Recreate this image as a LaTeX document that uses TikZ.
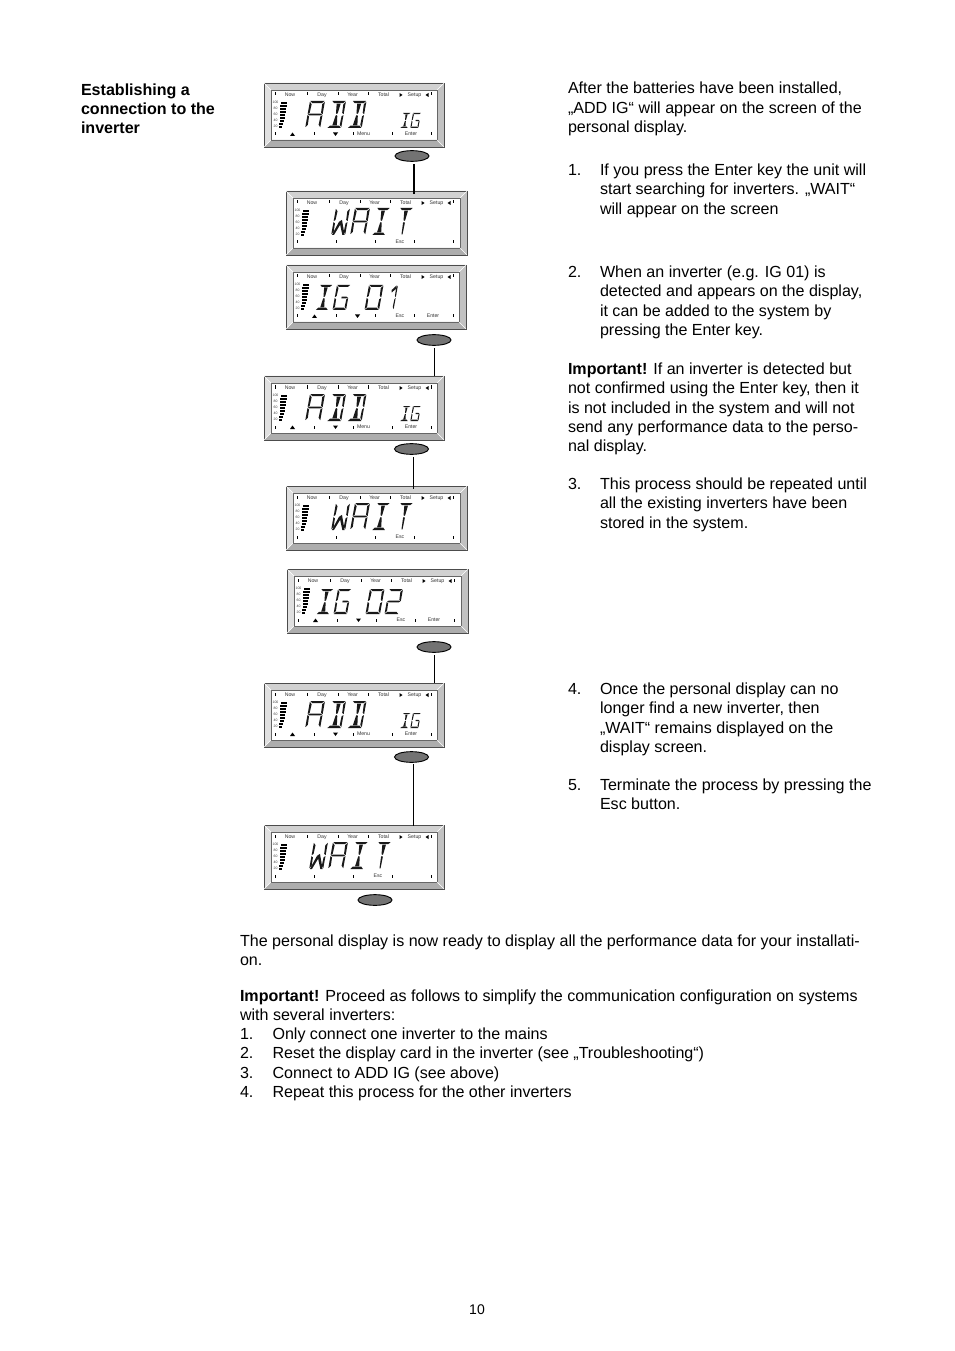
\documentclass[tikz,border=0pt]{standalone}
\usepackage{fontspec}
\setmainfont{Liberation Sans}
\usetikzlibrary{shapes.geometric}
\newcommand{\fl}{\rule{0pt}{11pt}}
\tikzset{
 x=.75pt,y=-.75pt,
 body/.style={anchor=north west,inner sep=0pt,outer sep=0pt,align=left,font=\fontsize{12.05}{14.4}\selectfont},
 lcdbox/.style={draw=black!70,line width=.5pt,anchor=north west,inner sep=0pt,fill=white},
 keybtn/.style={ellipse,draw=black,line width=.7pt,fill=black!55,minimum width=25.5pt,minimum height=8pt,inner sep=0pt},
 wire/.style={draw=black,line width=1.1pt},
 thinwire/.style={draw=black,line width=.7pt},
 tiny/.style={inner sep=0pt,font=\fontsize{3.9}{4}\selectfont,text=black!80},
 micro/.style={inner sep=0pt,font=\fontsize{2.6}{3}\selectfont,text=black!75},
 lcdseg/.style={fill=black!90},
}
\def\segT{\fill[lcdseg] (.03,0)--(.97,0)--(.82,.08)--(.18,.08)--cycle;}
\def\segB{\fill[lcdseg] (.02,1)--(.98,1)--(.82,.91)--(.18,.91)--cycle;}
\def\segUL{\fill[lcdseg] (0,.03)--(.15,.12)--(.12,.44)--(0,.49)--cycle;}
\def\segUR{\fill[lcdseg] (1,.03)--(.85,.12)--(.88,.44)--(1,.49)--cycle;}
\def\segLL{\fill[lcdseg] (0,.52)--(.12,.57)--(.14,.88)--(0,.97)--cycle;}
\def\segLR{\fill[lcdseg] (1,.52)--(.88,.57)--(.86,.88)--(1,.97)--cycle;}
\def\segM{\fill[lcdseg] (.03,.5)--(.14,.465)--(.86,.465)--(.97,.5)--(.86,.535)--(.14,.535)--cycle;}
\def\segMR{\fill[lcdseg] (.5,.465)--(.86,.465)--(.97,.5)--(.86,.535)--(.5,.535)--cycle;}
\def\segCU{\fill[lcdseg] (.37,.1)--(.65,.1)--(.57,.45)--(.5,.48)--(.44,.45)--cycle;}
\def\segCL{\fill[lcdseg] (.44,.55)--(.5,.52)--(.57,.55)--(.66,.9)--(.34,.9)--cycle;}
\def\segTL{\fill[lcdseg] (.44,.55)--(.5,.52)--(.58,.55)--(.56,.98)--(.48,.98)--cycle;}
\def\segDL{\fill[lcdseg] (.4,.5)--(.56,.56)--(.2,1)--(.05,1)--cycle;}
\def\segDR{\fill[lcdseg] (.42,.5)--(.58,.44)--(.96,1)--(.8,1)--cycle;}
\def\segFL{\fill[lcdseg] (.4,.2)--(.85,.02)--(.9,.14)--(.45,.3)--cycle;}
% \lcdglyph{x}{y}{w}{h}{segments macro}
\newcommand{\lcdglyph}[5]{%
 \begin{scope}[shift={(#1,#2)},xscale=#3,yscale=#4,xslant={.18*(#4)/(#3)}]
  \foreach \sgname in #5{\csname seg\sgname\endcsname}
 \end{scope}}
\def\GA{T,UL,UR,M,LL,LR}
\def\GD{T,UR,LR,B,CU,CL}
\def\GW{UL,LL,UR,LR,DL,DR}
\def\GI{T,B,CU,CL}
\def\GT{T,CU,TL}
\def\GG{T,UL,LL,B,LR,MR}
\def\GO{T,UL,UR,LL,LR,B}
\def\GL{FL,UR,LR}
\def\GZ{T,UR,M,LL,B}
\newcommand{\lcdframe}[4]{% name, x, y, w
 \node[lcdbox,minimum width={(#4)*.75pt},minimum height=48pt] (#1) at (#2,#3) {};
 \begin{scope}[shift={(#2,#3)}]
  \fill[black!18] (0,0)--(#4,0)--(#4-7,7)--(7,7)--cycle;
  \fill[black!12] (0,0)--(7,7)--(7,57)--(0,64)--cycle;
  \fill[black!24] (#4,0)--(#4-7,7)--(#4-7,57)--(#4,64)--cycle;
  \fill[black!32] (0,64)--(#4,64)--(#4-7,57)--(7,57)--cycle;
  \draw[black!70,line width=.6pt] (0,0) rectangle (#4,64);
  \draw[black!60,line width=.5pt] (7,7) rectangle (#4-7,57);
  \draw[white,line width=.4pt] (0,0)--(7,7) (#4,0)--(#4-7,7) (0,64)--(7,57) (#4,64)--(#4-7,57);
  \foreach \t in {11,43,74,104,167}{\fill[black] (\t-.5,9.5) rectangle (\t+.5,12.5);}
  \node[tiny] at (26,12) {Now};
  \node[tiny] at (58,12) {Day};
  \node[tiny] at (88.5,12) {Year};
  \node[tiny] at (119.5,12) {Total};
  \node[tiny] at (150.5,12) {Setup};
  \fill[black] (135.5,10)--(138.5,12)--(135.5,14)--cycle;
  \fill[black] (164.5,10)--(161.5,12)--(164.5,14)--cycle;
  \foreach \yy/\lbl in {19/100,25/80,31/60,37/40,43/20}{\node[micro] at (11.5,\yy) {\lbl};}
  \foreach \yy/\xa/\xb in {19/16.5/22.5,22/16.4/22.5,25/16.2/22,28/16/22,31/15.9/21,34/15.7/20.5,37/15.6/20,40/15.4/19,43/15.2/17.5}{\fill[black] (\xa,\yy) rectangle (\xb,\yy+2.1);}
 \end{scope}}
\newcommand{\bottomticks}[3]{%
 \begin{scope}[shift={(#1,#2)}]
  \foreach \t in {#3}{\fill[black] (\t-.5,49.5) rectangle (\t+.5,52.5);}
 \end{scope}}
\newcommand{\botlabel}[4]{\begin{scope}[shift={(#1,#2)}]\node[tiny] at (#3,51) {#4};\end{scope}}
\newcommand{\updown}[2]{\begin{scope}[shift={(#1,#2)}]
  \fill[black] (26,53)--(31,53)--(28.5,49.5)--cycle;
  \fill[black] (69,49.5)--(74,49.5)--(71.5,53)--cycle;
 \end{scope}}
\newcommand{\addpanel}[3]{%
 \lcdframe{#1}{#2}{#3}{180}
 \bottomticks{#2}{#3}{11,50,89,128,167}
 \updown{#2}{#3}
 \botlabel{#2}{#3}{99.5}{Menu}\botlabel{#2}{#3}{147}{Enter}
 \lcdglyph{#2+46}{#3+18}{15}{27}{\GA}
 \lcdglyph{#2+68}{#3+18}{14}{27}{\GD}
 \lcdglyph{#2+88.5}{#3+18}{14}{27}{\GD}
 \lcdglyph{#2+139}{#3+30}{7.5}{15}{\GI}
 \lcdglyph{#2+149}{#3+30}{8}{15}{\GG}}
\newcommand{\waitpanel}[4]{%
 \lcdframe{#1}{#2}{#3}{#4}
 \bottomticks{#2}{#3}{11,50,89,128,167}
 \botlabel{#2}{#3}{114}{Esc}
 \lcdglyph{#2+50}{#3+17}{14}{27}{\GW}
 \lcdglyph{#2+69}{#3+17}{15}{27}{\GA}
 \lcdglyph{#2+91}{#3+17}{13}{27}{\GI}
 \lcdglyph{#2+114}{#3+17}{13}{27}{\GT}}
\newcommand{\igpanel}[5]{%
 \lcdframe{#1}{#2}{#3}{#4}
 \bottomticks{#2}{#3}{11,50,89,128,167}
 \updown{#2}{#3}
 \botlabel{#2}{#3}{114}{Esc}\botlabel{#2}{#3}{147}{Enter}
 \lcdglyph{#2+34}{#3+20}{12.5}{25}{\GI}
 \lcdglyph{#2+51}{#3+20}{13.5}{25}{\GG}
 \lcdglyph{#2+83}{#3+20}{14.5}{25}{\GO}
 #5}
\begin{document}
\begin{tikzpicture}
\path[use as bounding box,fill=white] (0,0) rectangle (954,1351);

\addpanel{lcdA}{264}{83}
\waitpanel{lcdB}{286}{191}{181}
\igpanel{lcdC}{286}{265}{180}{\lcdglyph{286+103}{265+20}{9}{25}{\GL}}
\addpanel{lcdD}{264}{376}
\waitpanel{lcdE}{286}{486}{181}
\igpanel{lcdF}{287}{569}{181}{\lcdglyph{287+102}{569+20}{14}{25}{\GZ}}
\addpanel{lcdG}{264}{683}
\waitpanel{lcdH}{264}{825}{180}

\node[keybtn] (btnA) at (412,156) {};
\node[keybtn] (btnB) at (434,340) {};
\node[keybtn] (btnC) at (411.5,449) {};
\node[keybtn] (btnD) at (434,647) {};
\node[keybtn] (btnE) at (411.5,757) {};
\node[keybtn] (btnF) at (375,900) {};

\draw[wire] ([xshift=1.5pt,yshift=-2pt]btnA.south) -- ([xshift=1.5pt,yshift=-2pt]btnA.south |- lcdB.north);
\draw[thinwire] ([yshift=-2pt]btnB.south) -- (btnB.south |- lcdD.north);
\draw[wire] ([xshift=1.5pt,yshift=-2pt]btnC.south) -- ([xshift=1.5pt,yshift=-2pt]btnC.south |- lcdE.north);
\draw[thinwire] ([yshift=-2pt]btnD.south) -- (btnD.south |- lcdG.north);
\draw[wire] ([xshift=1.5pt,yshift=-1pt]btnE.south) -- ([xshift=1.5pt,yshift=-1pt]btnE.south |- lcdH.north);

\node[body,font=\fontsize{12.05}{14.4}\selectfont\bfseries] (title) at (81,80.5) {\fl Establishing a\\connection to the\\inverter};

\node[body] (intro) at (568,79.3) {\fl After the batteries have been installed,\\„ADD IG“ will appear on the screen of the\\personal display.};
\node[body] (n1) at (568,161) {\fl 1.};
\node[body] (t1) at (600,161) {\fl If you press the Enter key the unit will\\start searching for inverters. „WAIT“\\will appear on the screen};
\node[body] (n2) at (568,263) {\fl 2.};
\node[body] (t2) at (600,263) {\fl When an inverter (e.g. IG 01) is\\detected and appears on the display,\\it can be added to the system by\\pressing the Enter key.};
\node[body] (imp1) at (568,360) {\fl\textbf{Important!} If an inverter is detected but\\not confirmed using the Enter key, then it\\is not included in the system and will not\\send any performance data to the perso-\\nal display.};
\node[body] (n3) at (568,475) {\fl 3.};
\node[body] (t3) at (600,475) {\fl This process should be repeated until\\all the existing inverters have been\\stored in the system.};
\node[body] (n4) at (568,680) {\fl 4.};
\node[body] (t4) at (600,680) {\fl Once the personal display can no\\longer find a new inverter, then\\„WAIT“ remains displayed on the\\display screen.};
\node[body] (n5) at (568,776) {\fl 5.};
\node[body] (t5) at (600,776) {\fl Terminate the process by pressing the\\Esc button.};

\node[body] (ready) at (240,932) {\fl The personal display is now ready to display all the performance data for your installati-\\on.};
\node[body] (imp2) at (240,987) {\fl\textbf{Important!} Proceed as follows to simplify the communication configuration on systems\\with several inverters:};
\node[body] (ln1) at (240,1025) {\fl 1.\\2.\\3.\\4.};
\node[body] (lt1) at (272.5,1025) {\fl Only connect one inverter to the mains\\Reset the display card in the inverter (see „Troubleshooting“)\\Connect to ADD IG (see above)\\Repeat this process for the other inverters};

\node[inner sep=0pt,font=\fontsize{10.5}{12}\selectfont] (page) at (477,1310) {10};
\end{tikzpicture}
\end{document}
